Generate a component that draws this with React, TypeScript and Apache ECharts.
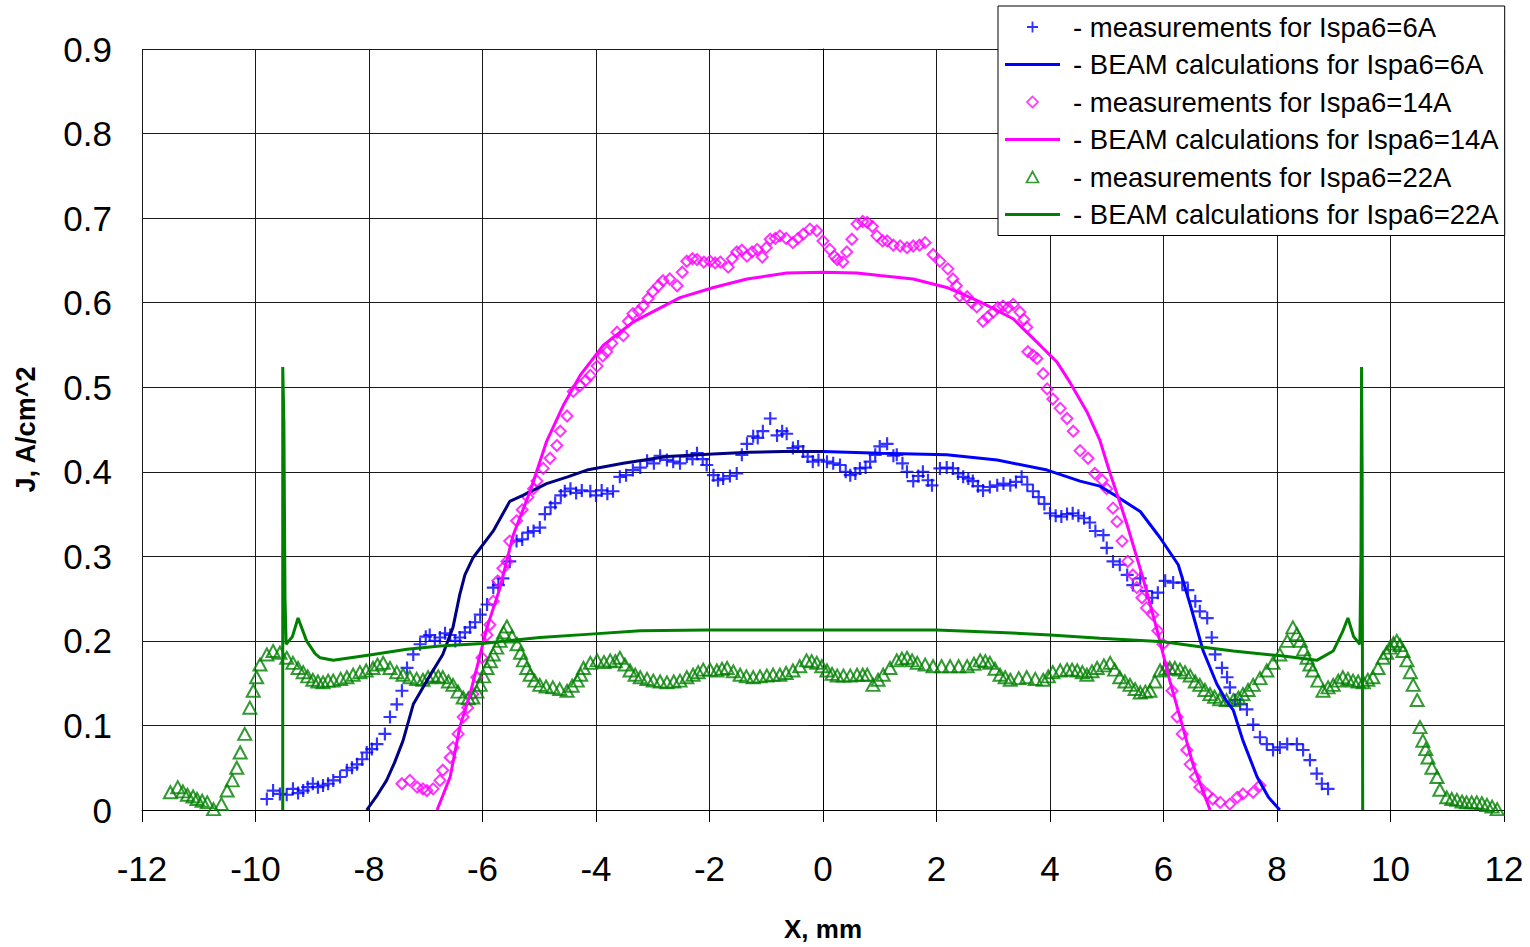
import React, { useEffect, useRef } from "react";
import * as echarts from "echarts";

const NAMES = [
  "- measurements for Ispa6=6A",
  "- BEAM calculations for Ispa6=6A",
  "- measurements for Ispa6=14A",
  "- BEAM calculations for Ispa6=14A",
  "- measurements for Ispa6=22A",
  "- BEAM calculations for Ispa6=22A",
];

const xTicks = { min: -12, max: 12, step: 2 };
const yTicks = { min: 0, max: 0.9, step: 0.1 };

const beam6Left: [number, number][] = [
  [-8.04, 0], [-7.85, 0.018], [-7.69, 0.035], [-7.55, 0.056], [-7.4, 0.082], [-7.22, 0.125],
  [-6.98, 0.153], [-6.7, 0.184], [-6.52, 0.216], [-6.4, 0.255], [-6.31, 0.278], [-6.17, 0.298],
  [-5.81, 0.33], [-5.52, 0.365], [-5.29, 0.372], [-4.87, 0.386], [-4.5, 0.394], [-4.16, 0.402],
  [-3.52, 0.41], [-2.75, 0.418], [-1.94, 0.421], [-1.3, 0.423], [-0.7, 0.424], [0, 0.424],
];

const beam6Right: [number, number][] = [
  [0, 0.424], [1.0, 0.422], [1.6, 0.421], [2.18, 0.42], [3.07, 0.414], [3.95, 0.402], [4.53, 0.389],
  [4.88, 0.383], [5.15, 0.372], [5.59, 0.353], [5.94, 0.322], [6.26, 0.29], [6.47, 0.243],
  [6.7, 0.188], [6.94, 0.149], [7.1, 0.13], [7.23, 0.118], [7.4, 0.082], [7.65, 0.039],
  [7.85, 0.015], [8.05, 0],
];

const beam14: [number, number][] = [
  [-6.8, 0], [-6.57, 0.039], [-6.4, 0.098], [-6.22, 0.137], [-6.1, 0.168], [-5.92, 0.216],
  [-5.69, 0.263], [-5.46, 0.325], [-5.16, 0.377], [-4.87, 0.436], [-4.58, 0.478], [-4.28, 0.514],
  [-3.88, 0.549], [-3.35, 0.577], [-2.52, 0.606], [-1.93, 0.618], [-1.34, 0.628], [-0.64, 0.635],
  [0, 0.636], [0.6, 0.635], [1.0, 0.632], [1.59, 0.628], [2.18, 0.618], [2.77, 0.601], [3.35, 0.581],
  [3.82, 0.55], [4.12, 0.53], [4.35, 0.506], [4.65, 0.471], [4.88, 0.437], [5.06, 0.398],
  [5.2, 0.37], [5.36, 0.337], [5.64, 0.274], [5.89, 0.212], [6.11, 0.153], [6.34, 0.098],
  [6.52, 0.054], [6.82, 0],
];

const beam22: [number, number][] = [
  [-9.52, 0], [-9.52, 0.524], [-9.5, 0.46], [-9.48, 0.25], [-9.46, 0.196], [-9.35, 0.205],
  [-9.25, 0.227], [-9.1, 0.2], [-8.95, 0.185], [-8.86, 0.18], [-8.63, 0.177], [-7.93, 0.184],
  [-7.33, 0.19], [-6.75, 0.194], [-6.0, 0.197], [-4.99, 0.204], [-4.1, 0.208], [-3.22, 0.212],
  [-2.05, 0.213], [0, 0.213], [2.0, 0.213], [3.12, 0.21], [4.0, 0.207], [4.88, 0.203], [6.0, 0.199],
  [6.64, 0.193], [7.23, 0.188], [8.11, 0.182], [8.7, 0.177], [8.99, 0.188], [9.15, 0.21],
  [9.25, 0.227], [9.35, 0.205], [9.46, 0.196], [9.48, 0.3], [9.49, 0.524], [9.5, 0.4], [9.51, 0],
];

const meas6: [number, number][] = [
  [-9.8, 0.013], [-9.69, 0.023], [-9.57, 0.019], [-9.45, 0.018], [-9.34, 0.025], [-9.25, 0.02],
  [-9.16, 0.023], [-9.08, 0.027], [-8.99, 0.031], [-8.9, 0.027], [-8.81, 0.029], [-8.72, 0.031],
  [-8.63, 0.035], [-8.51, 0.039], [-8.39, 0.047], [-8.3, 0.05], [-8.21, 0.054], [-8.12, 0.06],
  [-8.04, 0.068], [-7.95, 0.072], [-7.86, 0.078], [-7.72, 0.09], [-7.63, 0.11], [-7.51, 0.125],
  [-7.42, 0.141], [-7.33, 0.168], [-7.22, 0.184], [-7.1, 0.196], [-7.0, 0.205], [-6.93, 0.207],
  [-6.84, 0.2], [-6.75, 0.204], [-6.66, 0.209], [-6.57, 0.207], [-6.48, 0.2], [-6.4, 0.204],
  [-6.31, 0.21], [-6.22, 0.216], [-6.13, 0.222], [-6.04, 0.231], [-5.92, 0.243], [-5.81, 0.263],
  [-5.72, 0.266], [-5.64, 0.274], [-5.52, 0.294], [-5.4, 0.318], [-5.3, 0.32], [-5.2, 0.328],
  [-5.1, 0.33], [-4.99, 0.334], [-4.9, 0.35], [-4.8, 0.358], [-4.72, 0.363], [-4.62, 0.372],
  [-4.55, 0.377], [-4.45, 0.38], [-4.35, 0.375], [-4.25, 0.378], [-4.1, 0.377], [-4.0, 0.372],
  [-3.9, 0.378], [-3.8, 0.374], [-3.7, 0.377], [-3.58, 0.394], [-3.47, 0.396], [-3.35, 0.402],
  [-3.22, 0.405], [-3.1, 0.413], [-2.98, 0.41], [-2.87, 0.419], [-2.75, 0.414], [-2.64, 0.412],
  [-2.52, 0.41], [-2.4, 0.418], [-2.3, 0.415], [-2.22, 0.422], [-2.12, 0.415], [-2.05, 0.408],
  [-1.93, 0.396], [-1.85, 0.39], [-1.76, 0.392], [-1.64, 0.395], [-1.52, 0.398], [-1.43, 0.42],
  [-1.34, 0.433], [-1.23, 0.442], [-1.15, 0.44], [-1.06, 0.448], [-0.93, 0.463], [-0.81, 0.443],
  [-0.72, 0.448], [-0.64, 0.445], [-0.53, 0.428], [-0.44, 0.43], [-0.35, 0.424], [-0.27, 0.418],
  [-0.18, 0.412], [-0.08, 0.414], [0.07, 0.412], [0.18, 0.41], [0.3, 0.408], [0.4, 0.4],
  [0.48, 0.396], [0.57, 0.398], [0.65, 0.404], [0.75, 0.405], [0.83, 0.412], [0.92, 0.42],
  [1.0, 0.43], [1.13, 0.433], [1.24, 0.419], [1.3, 0.42], [1.4, 0.41], [1.48, 0.4], [1.59, 0.389],
  [1.68, 0.395], [1.76, 0.4], [1.85, 0.39], [1.92, 0.384], [2.06, 0.404], [2.18, 0.405],
  [2.29, 0.404], [2.38, 0.398], [2.47, 0.394], [2.56, 0.392], [2.64, 0.389], [2.73, 0.383],
  [2.82, 0.378], [2.94, 0.382], [3.07, 0.384], [3.18, 0.386], [3.3, 0.384], [3.4, 0.388],
  [3.5, 0.394], [3.6, 0.385], [3.7, 0.377], [3.8, 0.37], [3.9, 0.362], [4.0, 0.351], [4.1, 0.348],
  [4.2, 0.347], [4.3, 0.35], [4.4, 0.351], [4.5, 0.348], [4.6, 0.345], [4.7, 0.34], [4.8, 0.33],
  [4.94, 0.325], [5.0, 0.31], [5.11, 0.294], [5.23, 0.29], [5.36, 0.278], [5.46, 0.266],
  [5.59, 0.274], [5.7, 0.259], [5.8, 0.251], [5.9, 0.257], [6.03, 0.271], [6.17, 0.269],
  [6.33, 0.269], [6.43, 0.26], [6.56, 0.247], [6.64, 0.235], [6.77, 0.227], [6.85, 0.204],
  [6.91, 0.184], [7.03, 0.168], [7.12, 0.157], [7.17, 0.145], [7.26, 0.13], [7.35, 0.125],
  [7.47, 0.119], [7.58, 0.101], [7.7, 0.086], [7.82, 0.078], [7.93, 0.071], [8.05, 0.074],
  [8.18, 0.078], [8.35, 0.078], [8.46, 0.071], [8.58, 0.059], [8.7, 0.043], [8.79, 0.031],
  [8.9, 0.025],
];

const meas14: [number, number][] = [
  [-7.42, 0.031], [-7.28, 0.035], [-7.15, 0.027], [-7.05, 0.025], [-6.98, 0.023], [-6.87, 0.025],
  [-6.75, 0.035], [-6.7, 0.047], [-6.57, 0.062], [-6.52, 0.074], [-6.43, 0.09], [-6.34, 0.11],
  [-6.26, 0.121], [-6.17, 0.137], [-6.1, 0.157], [-6.01, 0.18], [-5.92, 0.207], [-5.87, 0.219],
  [-5.81, 0.247], [-5.73, 0.271], [-5.64, 0.286], [-5.57, 0.294], [-5.52, 0.318], [-5.4, 0.342],
  [-5.3, 0.355], [-5.2, 0.37], [-5.1, 0.38], [-5.04, 0.389], [-4.93, 0.404], [-4.81, 0.416],
  [-4.69, 0.431], [-4.63, 0.448], [-4.51, 0.466], [-4.4, 0.495], [-4.28, 0.502], [-4.18, 0.508],
  [-4.1, 0.514], [-3.98, 0.525], [-3.88, 0.537], [-3.81, 0.542], [-3.72, 0.552], [-3.63, 0.565],
  [-3.52, 0.561], [-3.43, 0.578], [-3.35, 0.587], [-3.25, 0.59], [-3.17, 0.596], [-3.08, 0.605],
  [-3.0, 0.613], [-2.9, 0.62], [-2.82, 0.626], [-2.7, 0.628], [-2.57, 0.62], [-2.48, 0.636],
  [-2.4, 0.649], [-2.3, 0.652], [-2.22, 0.651], [-2.1, 0.648], [-1.99, 0.649], [-1.9, 0.647],
  [-1.81, 0.648], [-1.67, 0.642], [-1.6, 0.652], [-1.52, 0.66], [-1.43, 0.662], [-1.34, 0.655],
  [-1.25, 0.66], [-1.16, 0.663], [-1.07, 0.654], [-1.0, 0.665], [-0.93, 0.675], [-0.84, 0.676],
  [-0.76, 0.679], [-0.65, 0.676], [-0.53, 0.671], [-0.44, 0.676], [-0.35, 0.681], [-0.23, 0.687],
  [-0.11, 0.685], [0.0, 0.673], [0.12, 0.663], [0.2, 0.655], [0.25, 0.651], [0.35, 0.648],
  [0.42, 0.66], [0.51, 0.675], [0.6, 0.693], [0.7, 0.696], [0.78, 0.695], [0.87, 0.69],
  [0.95, 0.679], [1.05, 0.673], [1.13, 0.673], [1.24, 0.668], [1.36, 0.667], [1.48, 0.665],
  [1.59, 0.667], [1.7, 0.668], [1.8, 0.671], [1.94, 0.657], [2.06, 0.649], [2.2, 0.64],
  [2.29, 0.628], [2.35, 0.62], [2.41, 0.608], [2.54, 0.607], [2.62, 0.6], [2.71, 0.595],
  [2.82, 0.578], [2.9, 0.583], [3.0, 0.589], [3.08, 0.594], [3.17, 0.596], [3.26, 0.594],
  [3.35, 0.598], [3.47, 0.589], [3.54, 0.58], [3.59, 0.571], [3.61, 0.542], [3.7, 0.538],
  [3.77, 0.534], [3.88, 0.516], [3.95, 0.498], [4.05, 0.486], [4.18, 0.475], [4.3, 0.463],
  [4.41, 0.448], [4.53, 0.425], [4.67, 0.416], [4.79, 0.398], [4.92, 0.39], [5.0, 0.38],
  [5.11, 0.357], [5.18, 0.341], [5.27, 0.318], [5.37, 0.294], [5.46, 0.278], [5.53, 0.263],
  [5.62, 0.251], [5.7, 0.239], [5.81, 0.231], [5.9, 0.212], [5.99, 0.196], [6.06, 0.168],
  [6.15, 0.141], [6.24, 0.11], [6.33, 0.09], [6.41, 0.071], [6.47, 0.054], [6.56, 0.039],
  [6.64, 0.027], [6.77, 0.019], [6.87, 0.013], [7.0, 0.009], [7.17, 0.007], [7.3, 0.015],
  [7.4, 0.019], [7.58, 0.021], [7.7, 0.029],
];

const meas22: [number, number][] = [
  [-11.5, 0.021], [-11.37, 0.027], [-11.28, 0.022], [-11.2, 0.018], [-11.1, 0.016], [-11.03, 0.013],
  [-10.94, 0.011], [-10.85, 0.009], [-10.74, 0.001], [-10.6, 0.007], [-10.5, 0.023], [-10.41, 0.035],
  [-10.33, 0.05], [-10.27, 0.068], [-10.19, 0.09], [-10.1, 0.121], [-10.04, 0.141], [-9.98, 0.157],
  [-9.92, 0.172], [-9.8, 0.184], [-9.69, 0.188], [-9.57, 0.186], [-9.45, 0.18], [-9.34, 0.174],
  [-9.25, 0.168], [-9.16, 0.163], [-9.08, 0.158], [-8.99, 0.154], [-8.9, 0.152], [-8.81, 0.151],
  [-8.72, 0.153], [-8.63, 0.153], [-8.5, 0.155], [-8.39, 0.157], [-8.28, 0.16], [-8.16, 0.163],
  [-8.05, 0.165], [-7.93, 0.168], [-7.85, 0.172], [-7.75, 0.174], [-7.63, 0.168], [-7.51, 0.163],
  [-7.4, 0.16], [-7.28, 0.157], [-7.16, 0.155], [-7.05, 0.154], [-6.96, 0.157], [-6.87, 0.159],
  [-6.78, 0.158], [-6.7, 0.157], [-6.6, 0.152], [-6.52, 0.148], [-6.43, 0.14], [-6.34, 0.133],
  [-6.25, 0.132], [-6.17, 0.133], [-6.1, 0.14], [-6.04, 0.148], [-5.98, 0.158], [-5.92, 0.168],
  [-5.86, 0.176], [-5.81, 0.184], [-5.75, 0.192], [-5.69, 0.2], [-5.63, 0.21], [-5.57, 0.217],
  [-5.48, 0.205], [-5.39, 0.196], [-5.33, 0.186], [-5.28, 0.177], [-5.22, 0.168], [-5.16, 0.16],
  [-5.08, 0.153], [-4.99, 0.148], [-4.88, 0.146], [-4.76, 0.145], [-4.64, 0.143], [-4.51, 0.141],
  [-4.42, 0.147], [-4.33, 0.153], [-4.27, 0.16], [-4.22, 0.168], [-4.1, 0.174], [-3.98, 0.177],
  [-3.86, 0.175], [-3.75, 0.177], [-3.66, 0.176], [-3.58, 0.18], [-3.49, 0.172], [-3.4, 0.165],
  [-3.31, 0.16], [-3.22, 0.157], [-3.1, 0.155], [-2.99, 0.153], [-2.87, 0.152], [-2.75, 0.151],
  [-2.63, 0.152], [-2.52, 0.153], [-2.4, 0.157], [-2.29, 0.16], [-2.2, 0.163], [-2.11, 0.166],
  [-1.99, 0.166], [-1.87, 0.165], [-1.78, 0.167], [-1.69, 0.168], [-1.58, 0.164], [-1.46, 0.16],
  [-1.35, 0.158], [-1.23, 0.157], [-1.11, 0.158], [-0.99, 0.159], [-0.88, 0.16], [-0.76, 0.16],
  [-0.65, 0.162], [-0.53, 0.165], [-0.41, 0.17], [-0.29, 0.177], [-0.2, 0.176], [-0.11, 0.174],
  [-0.02, 0.17], [0.07, 0.165], [0.16, 0.161], [0.25, 0.159], [0.36, 0.159], [0.48, 0.159],
  [0.6, 0.16], [0.7, 0.16], [0.78, 0.16], [0.88, 0.148], [0.97, 0.154], [1.06, 0.16], [1.18, 0.168],
  [1.3, 0.177], [1.39, 0.179], [1.48, 0.18], [1.57, 0.177], [1.66, 0.174], [1.8, 0.172],
  [1.94, 0.17], [2.09, 0.17], [2.24, 0.17], [2.39, 0.17], [2.54, 0.17], [2.66, 0.173], [2.77, 0.177],
  [2.86, 0.176], [2.94, 0.174], [3.03, 0.167], [3.12, 0.16], [3.21, 0.157], [3.3, 0.154],
  [3.45, 0.156], [3.59, 0.157], [3.74, 0.155], [3.88, 0.154], [3.97, 0.158], [4.05, 0.163],
  [4.18, 0.165], [4.3, 0.166], [4.39, 0.166], [4.48, 0.165], [4.57, 0.163], [4.65, 0.16],
  [4.74, 0.164], [4.83, 0.168], [4.95, 0.171], [5.06, 0.174], [5.14, 0.166], [5.23, 0.157],
  [5.32, 0.152], [5.41, 0.148], [5.5, 0.143], [5.59, 0.139], [5.68, 0.14], [5.76, 0.141],
  [5.85, 0.152], [5.94, 0.165], [6.03, 0.167], [6.11, 0.168], [6.2, 0.168], [6.29, 0.166],
  [6.38, 0.163], [6.47, 0.159], [6.56, 0.152], [6.64, 0.148], [6.73, 0.142], [6.82, 0.137],
  [6.9, 0.134], [6.99, 0.131], [7.11, 0.13], [7.23, 0.13], [7.32, 0.133], [7.4, 0.137],
  [7.49, 0.142], [7.58, 0.148], [7.7, 0.156], [7.82, 0.165], [7.93, 0.174], [8.05, 0.184],
  [8.18, 0.2], [8.28, 0.216], [8.35, 0.208], [8.41, 0.2], [8.47, 0.19], [8.53, 0.18], [8.58, 0.172],
  [8.63, 0.165], [8.72, 0.153], [8.81, 0.141], [8.9, 0.145], [8.99, 0.148], [9.08, 0.153],
  [9.16, 0.157], [9.25, 0.155], [9.34, 0.153], [9.43, 0.152], [9.52, 0.151], [9.6, 0.154],
  [9.69, 0.157], [9.78, 0.168], [9.87, 0.18], [9.93, 0.186], [9.99, 0.192], [10.05, 0.197],
  [10.11, 0.2], [10.17, 0.195], [10.22, 0.188], [10.29, 0.177], [10.35, 0.163], [10.4, 0.148],
  [10.47, 0.13], [10.52, 0.098], [10.57, 0.082], [10.62, 0.072], [10.66, 0.062], [10.73, 0.05],
  [10.82, 0.039], [10.87, 0.024], [10.99, 0.015], [11.08, 0.013], [11.17, 0.012], [11.26, 0.01],
  [11.34, 0.009], [11.43, 0.009], [11.52, 0.009], [11.61, 0.008], [11.7, 0.006], [11.79, 0.004],
  [11.88, 0.001],
];

const FONT = "'Liberation Sans', Arial, sans-serif";
const BLUE = "#0000FF";
const NAVY = "#000080";
const MAGENTA = "#FF00FF";
const GREEN = "#008000";
const CROSS = "path://M5,0H7V12H5Z M0,5H12V7H0Z";
const DIAMOND = "path://M6,0L12,6L6,12L0,6Z";
const TRIANGLE = "path://M6,0L12,11H0Z";
const LINE_ICON = "path://M0,0H55V3H0Z";

export default function App() {
  const ref = useRef<HTMLDivElement>(null);

  useEffect(() => {
    if (!ref.current) return;
    const chart = echarts.init(ref.current, undefined, { renderer: "svg" });
    const gridLine = { show: true, lineStyle: { color: "#1a1a1a", width: 1 } };
    const hollow = (c: string) => ({ color: "transparent", borderColor: c, borderWidth: 2 });
    chart.setOption({
      animation: false,
      backgroundColor: "#fff",
      grid: { left: 142, right: 26, top: 49, bottom: 134, containLabel: false },
      legend: {
        orient: "vertical",
        left: 998,
        top: 6,
        padding: [6, 6, 6, 7],
        itemGap: 7.5,
        itemWidth: 55,
        itemHeight: 11,
        symbolKeepAspect: true,
        backgroundColor: "#fff",
        borderColor: "#000",
        borderWidth: 1,
        borderRadius: 0,
        selectedMode: false,
        z: 10,
        textStyle: {
          fontFamily: FONT,
          fontSize: 27.5,
          color: "#000",
          lineHeight: 30,
          padding: [0, 0, 0, 8],
        },
        data: [
          { name: NAMES[0], icon: CROSS, itemStyle: { color: BLUE } },
          { name: NAMES[1], icon: LINE_ICON, itemStyle: { color: BLUE, borderWidth: 0 } },
          { name: NAMES[2], icon: DIAMOND, itemStyle: { color: "transparent", borderColor: MAGENTA, borderWidth: 1.7 } },
          { name: NAMES[3], icon: LINE_ICON, itemStyle: { color: MAGENTA, borderWidth: 0 } },
          { name: NAMES[4], icon: TRIANGLE, itemStyle: { color: "transparent", borderColor: GREEN, borderWidth: 1.7 } },
          { name: NAMES[5], icon: LINE_ICON, itemStyle: { color: GREEN, borderWidth: 0 } },
        ],
      },
      xAxis: {
        type: "value",
        min: xTicks.min,
        max: xTicks.max,
        interval: xTicks.step,
        name: "X, mm",
        nameLocation: "middle",
        nameGap: 106,
        nameTextStyle: { fontFamily: FONT, fontSize: 26, fontWeight: "bold", color: "#000" },
        axisLine: { show: true, onZero: false, lineStyle: { color: "#000", width: 1 } },
        axisTick: { show: true, inside: false, length: 12, lineStyle: { color: "#000" } },
        axisLabel: {
          margin: 41,
          fontFamily: FONT,
          fontSize: 35,
          color: "#000",
          formatter: (v: number) => String(v),
        },
        splitLine: gridLine,
      },
      yAxis: {
        type: "value",
        min: yTicks.min,
        max: yTicks.max,
        interval: yTicks.step,
        name: "J, A/cm^2",
        nameLocation: "middle",
        nameGap: 103,
        nameRotate: 90,
        nameTextStyle: { fontFamily: FONT, fontSize: 27, fontWeight: "bold", color: "#000" },
        axisLine: { show: true, lineStyle: { color: "#000", width: 1 } },
        axisTick: { show: true, inside: false, length: 14, lineStyle: { color: "#000" } },
        axisLabel: {
          margin: 30,
          fontFamily: FONT,
          fontSize: 35,
          color: "#000",
          formatter: (v: number) => (v === 0 ? "0" : v.toFixed(1)),
        },
        splitLine: gridLine,
      },
      series: [
        {
          name: NAMES[0],
          type: "scatter",
          data: meas6,
          symbol: CROSS,
          symbolSize: 13,
          itemStyle: { color: BLUE },
        },
        {
          name: NAMES[1],
          type: "line",
          data: beam6Right,
          symbol: "none",
          showSymbol: false,
          lineStyle: { color: BLUE, width: 3 },
          itemStyle: { color: BLUE },
        },
        {
          name: NAMES[1],
          type: "line",
          data: beam6Left,
          symbol: "none",
          showSymbol: false,
          lineStyle: { color: NAVY, width: 3 },
          itemStyle: { color: NAVY },
        },
        {
          name: NAMES[2],
          type: "scatter",
          data: meas14,
          symbol: "diamond",
          symbolSize: 11,
          itemStyle: hollow(MAGENTA),
        },
        {
          name: NAMES[3],
          type: "line",
          data: beam14,
          symbol: "none",
          showSymbol: false,
          lineStyle: { color: MAGENTA, width: 3 },
          itemStyle: { color: MAGENTA },
        },
        {
          name: NAMES[4],
          type: "scatter",
          data: meas22,
          symbol: "triangle",
          symbolSize: [13, 12],
          itemStyle: hollow(GREEN),
        },
        {
          name: NAMES[5],
          type: "line",
          data: beam22,
          symbol: "none",
          showSymbol: false,
          lineStyle: { color: GREEN, width: 3 },
          itemStyle: { color: GREEN },
        },
      ],
    });
    return () => chart.dispose();
  }, []);

  return (
    <div
      ref={ref}
      style={{ position: "fixed", left: 0, top: 0, width: 1530, height: 947, background: "#fff" }}
    />
  );
}
